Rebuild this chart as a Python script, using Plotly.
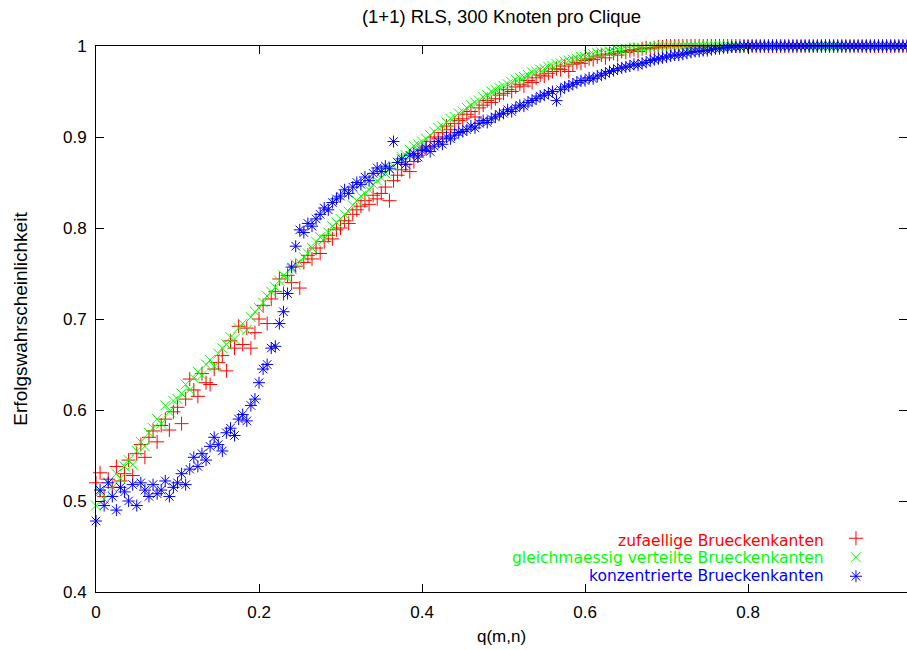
import plotly.graph_objects as go

# q(m,n) values (shared by all three series)
q = [
    0.000, 0.005, 0.010, 0.015, 0.020, 0.025, 0.030, 0.035, 0.040, 0.045,
    0.050, 0.055, 0.060, 0.065, 0.070, 0.075, 0.080, 0.085, 0.090, 0.095,
    0.100, 0.105, 0.110, 0.115, 0.120, 0.125, 0.130, 0.135, 0.140, 0.145,
    0.150, 0.155, 0.160, 0.165, 0.170, 0.175, 0.180, 0.185, 0.190, 0.195,
    0.200, 0.205, 0.210, 0.215, 0.220, 0.225, 0.230, 0.235, 0.240, 0.245,
    0.250, 0.255, 0.260, 0.265, 0.270, 0.275, 0.280, 0.285, 0.290, 0.295,
    0.300, 0.305, 0.310, 0.315, 0.320, 0.325, 0.330, 0.335, 0.340, 0.345,
    0.350, 0.355, 0.360, 0.365, 0.370, 0.375, 0.380, 0.385, 0.390, 0.395,
    0.400, 0.405, 0.410, 0.415, 0.420, 0.425, 0.430, 0.435, 0.440, 0.445,
    0.450, 0.455, 0.460, 0.465, 0.470, 0.475, 0.480, 0.485, 0.490, 0.495,
    0.500, 0.505, 0.510, 0.515, 0.520, 0.525, 0.530, 0.535, 0.540, 0.545,
    0.550, 0.555, 0.560, 0.565, 0.570, 0.575, 0.580, 0.585, 0.590, 0.595,
    0.600, 0.605, 0.610, 0.615, 0.620, 0.625, 0.630, 0.635, 0.640, 0.645,
    0.650, 0.655, 0.660, 0.665, 0.670, 0.675, 0.680, 0.685, 0.690, 0.695,
    0.700, 0.705, 0.710, 0.715, 0.720, 0.725, 0.730, 0.735, 0.740, 0.745,
    0.750, 0.755, 0.760, 0.765, 0.770, 0.775, 0.780, 0.785, 0.790, 0.795,
    0.800, 0.805, 0.810, 0.815, 0.820, 0.825, 0.830, 0.835, 0.840, 0.845,
    0.850, 0.855, 0.860, 0.865, 0.870, 0.875, 0.880, 0.885, 0.890, 0.895,
    0.900, 0.905, 0.910, 0.915, 0.920, 0.925, 0.930, 0.935, 0.940, 0.945,
    0.950, 0.955, 0.960, 0.965, 0.970, 0.975, 0.980, 0.985, 0.990, 0.995,
]

# zufaellige Brueckenkanten
p_random = [
    0.520, 0.531, 0.505, 0.524, 0.515, 0.538, 0.522, 0.530, 0.545, 0.528,
    0.552, 0.562, 0.548, 0.570, 0.577, 0.565, 0.583, 0.590, 0.578, 0.598,
    0.603, 0.585, 0.612, 0.634, 0.622, 0.615, 0.640, 0.630, 0.628, 0.645,
    0.652, 0.660, 0.643, 0.676, 0.668, 0.692, 0.672, 0.690, 0.668, 0.685,
    0.700, 0.715, 0.695, 0.722, 0.730, 0.744, 0.728, 0.748, 0.740, 0.758,
    0.734, 0.762, 0.770, 0.766, 0.778, 0.772, 0.785, 0.792, 0.788, 0.798,
    0.800, 0.808, 0.805, 0.815, 0.820, 0.824, 0.830, 0.826, 0.836, 0.832,
    0.838, 0.845, 0.830, 0.852, 0.858, 0.864, 0.870, 0.862, 0.873, 0.880,
    0.886, 0.890, 0.895, 0.900, 0.898, 0.905, 0.912, 0.908, 0.915, 0.918,
    0.920, 0.925, 0.928, 0.922, 0.932, 0.935, 0.940, 0.938, 0.942, 0.946,
    0.948, 0.952, 0.950, 0.955, 0.958, 0.956, 0.962, 0.960, 0.965, 0.968,
    0.967, 0.970, 0.972, 0.975, 0.974, 0.978, 0.972, 0.980, 0.982, 0.981,
    0.984, 0.986, 0.985, 0.988, 0.990, 0.987, 0.991, 0.992, 0.990, 0.994,
    0.993, 0.995, 0.996, 0.994, 0.997, 0.998, 0.997, 0.998, 0.999, 0.999,
    1.000, 1.000, 1.000, 1.000, 1.000, 1.000, 1.000, 1.000, 1.000, 1.000,
    1.000, 1.000, 1.000, 1.000, 1.000, 1.000, 1.000, 1.000, 1.000, 1.000,
    1.000, 1.000, 1.000, 1.000, 1.000, 1.000, 1.000, 1.000, 1.000, 1.000,
    1.000, 1.000, 1.000, 1.000, 1.000, 1.000, 1.000, 1.000, 1.000, 1.000,
    1.000, 1.000, 1.000, 1.000, 1.000, 1.000, 1.000, 1.000, 1.000, 1.000,
    1.000, 1.000, 1.000, 1.000, 1.000, 1.000, 1.000, 1.000, 1.000, 1.000,
]

# gleichmaessig verteilte Brueckenkanten
p_uniform = [
    0.495, 0.510, 0.502, 0.520, 0.515, 0.530, 0.525, 0.538, 0.545, 0.540,
    0.555, 0.565, 0.560, 0.575, 0.580, 0.590, 0.585, 0.605, 0.598, 0.610,
    0.612, 0.618, 0.628, 0.622, 0.635, 0.642, 0.638, 0.650, 0.655, 0.648,
    0.662, 0.668, 0.672, 0.680, 0.678, 0.690, 0.695, 0.688, 0.702, 0.708,
    0.712, 0.718, 0.725, 0.730, 0.735, 0.742, 0.748, 0.745, 0.755, 0.760,
    0.762, 0.768, 0.772, 0.778, 0.785, 0.790, 0.788, 0.795, 0.802, 0.806,
    0.810, 0.815, 0.818, 0.825, 0.830, 0.835, 0.838, 0.842, 0.848, 0.852,
    0.855, 0.860, 0.865, 0.868, 0.872, 0.878, 0.880, 0.886, 0.890, 0.892,
    0.895, 0.898, 0.902, 0.906, 0.910, 0.912, 0.916, 0.920, 0.922, 0.926,
    0.928, 0.932, 0.935, 0.938, 0.940, 0.944, 0.946, 0.950, 0.952, 0.954,
    0.956, 0.958, 0.960, 0.963, 0.965, 0.966, 0.968, 0.971, 0.972, 0.974,
    0.975, 0.977, 0.978, 0.980, 0.981, 0.983, 0.984, 0.985, 0.986, 0.988,
    0.988, 0.990, 0.991, 0.992, 0.993, 0.993, 0.994, 0.995, 0.996, 0.996,
    0.997, 0.997, 0.998, 0.998, 0.998, 0.999, 0.999, 0.999, 1.000, 1.000,
    1.000, 1.000, 1.000, 1.000, 1.000, 1.000, 1.000, 1.000, 1.000, 1.000,
    1.000, 1.000, 1.000, 1.000, 1.000, 1.000, 1.000, 1.000, 1.000, 1.000,
    1.000, 1.000, 1.000, 1.000, 1.000, 1.000, 1.000, 1.000, 1.000, 1.000,
    1.000, 1.000, 1.000, 1.000, 1.000, 1.000, 1.000, 1.000, 1.000, 1.000,
    1.000, 1.000, 1.000, 1.000, 1.000, 1.000, 1.000, 1.000, 1.000, 1.000,
    1.000, 1.000, 1.000, 1.000, 1.000, 1.000, 1.000, 1.000, 1.000, 1.000,
]

# konzentrierte Brueckenkanten
p_concentrated = [
    0.478, 0.512, 0.495, 0.520, 0.505, 0.490, 0.515, 0.510, 0.500, 0.518,
    0.495, 0.520, 0.512, 0.505, 0.518, 0.508, 0.512, 0.522, 0.505, 0.515,
    0.520, 0.530, 0.518, 0.535, 0.548, 0.538, 0.552, 0.545, 0.560, 0.570,
    0.562, 0.555, 0.575, 0.580, 0.572, 0.590, 0.595, 0.588, 0.605, 0.612,
    0.630, 0.645, 0.650, 0.668, 0.670, 0.695, 0.708, 0.728, 0.757, 0.780,
    0.798, 0.795, 0.805, 0.802, 0.810, 0.815, 0.822, 0.820, 0.828, 0.832,
    0.835, 0.842, 0.838, 0.845, 0.850, 0.848, 0.856, 0.852, 0.860, 0.866,
    0.862, 0.868, 0.865, 0.895, 0.872, 0.876, 0.870, 0.880, 0.882, 0.878,
    0.885, 0.888, 0.884, 0.890, 0.895, 0.892, 0.900, 0.898, 0.902, 0.905,
    0.906, 0.908, 0.912, 0.910, 0.915, 0.918, 0.916, 0.920, 0.922, 0.925,
    0.926, 0.930, 0.928, 0.932, 0.935, 0.934, 0.938, 0.940, 0.942, 0.945,
    0.946, 0.948, 0.950, 0.940, 0.952, 0.955, 0.956, 0.958, 0.960, 0.962,
    0.962, 0.965, 0.964, 0.967, 0.968, 0.970, 0.972, 0.973, 0.975, 0.976,
    0.977, 0.978, 0.980, 0.979, 0.981, 0.982, 0.984, 0.985, 0.986, 0.987,
    0.988, 0.989, 0.990, 0.990, 0.991, 0.992, 0.993, 0.994, 0.994, 0.995,
    0.995, 0.996, 0.997, 0.997, 0.998, 0.998, 0.999, 0.999, 0.999, 1.000,
    1.000, 1.000, 1.000, 1.000, 1.000, 1.000, 1.000, 1.000, 1.000, 1.000,
    1.000, 1.000, 1.000, 1.000, 1.000, 1.000, 1.000, 1.000, 1.000, 1.000,
    1.000, 1.000, 1.000, 1.000, 1.000, 1.000, 1.000, 1.000, 1.000, 1.000,
    1.000, 1.000, 1.000, 1.000, 1.000, 1.000, 1.000, 1.000, 1.000, 1.000,
]

series_names = [
    "zufaellige Brueckenkanten",
    "gleichmaessig verteilte Brueckenkanten",
    "konzentrierte Brueckenkanten",
]
series_values = [p_random, p_uniform, p_concentrated]
series_colors = ["#ff0000", "#00ff00", "#0000ff"]
series_symbols = ["cross-thin-open", "x-thin-open", "asterisk-open"]

x_tick_vals = [0, 0.2, 0.4, 0.6, 0.8]
x_tick_text = ["0", "0.2", "0.4", "0.6", "0.8"]
y_tick_vals = [0.4, 0.5, 0.6, 0.7, 0.8, 0.9, 1.0]
y_tick_text = ["0.4", "0.5", "0.6", "0.7", "0.8", "0.9", "1"]

FONT = "Liberation Sans, Arial, Helvetica, sans-serif"
KEY_FONT = "DejaVu Sans, Liberation Sans, sans-serif"

fig = go.Figure()
for name, ys, color, sym in zip(series_names, series_values, series_colors, series_symbols):
    fig.add_trace(go.Scatter(
        x=q, y=ys, mode="markers", name=" ",
        marker=dict(symbol=sym, size=10, color=color, line=dict(color=color, width=1)),
        cliponaxis=False, showlegend=True,
    ))

# legend texts (right-aligned, coloured like gnuplot key)
legend_rows_y = [0.0934, 0.0623, 0.0293]
for name, color, yy in zip(series_names, series_colors, legend_rows_y):
    fig.add_annotation(
        text=name, xref="paper", yref="paper", x=0.9, y=yy,
        xanchor="right", yanchor="middle", showarrow=False,
        font=dict(family=KEY_FONT, size=15.5, color=color),
    )

fig.update_layout(
    width=907, height=650,
    margin=dict(l=96, r=0, t=46, b=58),
    paper_bgcolor="white", plot_bgcolor="white",
    title=dict(text="(1+1) RLS, 300 Knoten pro Clique", x=0.5, xref="paper",
               y=1 - 17 / 650, yanchor="middle",
               font=dict(family=FONT, size=18.5, color="black")),
    font=dict(family=FONT, size=17, color="black"),
    legend=dict(x=0.9124, y=0.125, xanchor="left", yanchor="top",
                bgcolor="rgba(0,0,0,0)", font=dict(size=11),
                tracegroupgap=0, itemwidth=30),
    xaxis=dict(
        range=[0, 0.995], tickvals=x_tick_vals, ticktext=x_tick_text,
        ticks="inside", ticklen=8, tickcolor="black", tickwidth=1,
        showline=True, linecolor="black", linewidth=1, mirror="ticks",
        showgrid=False, zeroline=False,
        title=dict(text="q(m,n)", standoff=8, font=dict(size=17)),
        ticklabelstandoff=5,
    ),
    yaxis=dict(
        range=[0.4, 1.0], tickvals=y_tick_vals, ticktext=y_tick_text,
        ticks="inside", ticklen=8, tickcolor="black", tickwidth=1,
        showline=True, linecolor="black", linewidth=1, mirror="ticks",
        showgrid=False, zeroline=False,
        title=dict(text="Erfolgswahrscheinlichkeit", standoff=30, font=dict(size=19)),
        ticklabelstandoff=5,
    ),
)

fig.write_html("out.html")
